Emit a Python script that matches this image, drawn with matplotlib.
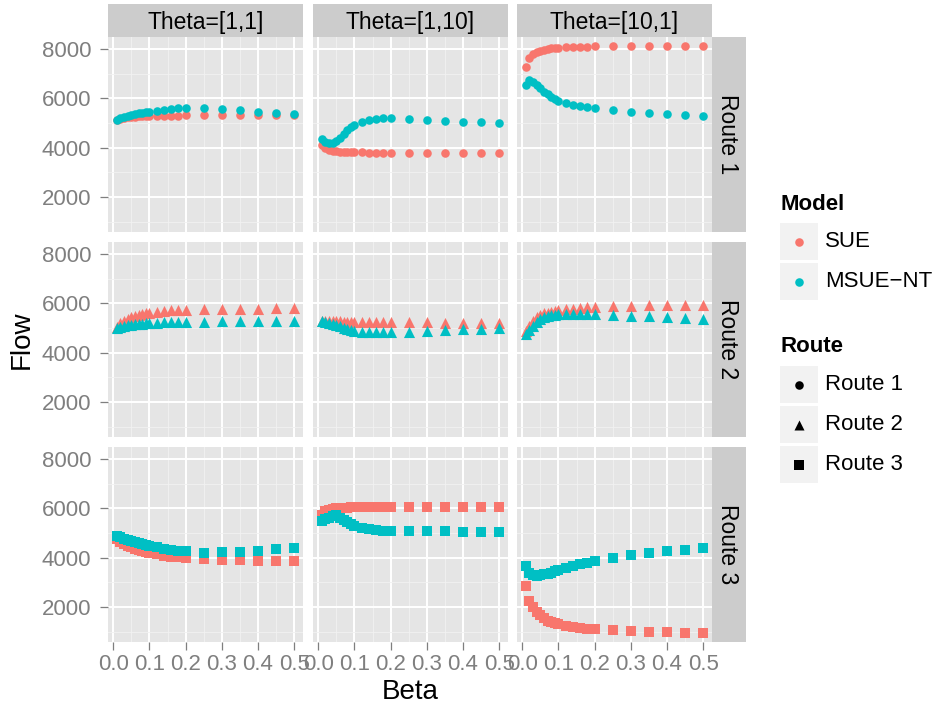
import matplotlib
matplotlib.use('Agg')
import matplotlib.pyplot as plt
from matplotlib.patches import Rectangle

plt.rcParams['font.family'] = ['Liberation Sans', 'DejaVu Sans']

# valores
beta = [0.01, 0.02, 0.03, 0.04, 0.05, 0.06, 0.07, 0.08, 0.09, 0.10,
        0.12, 0.14, 0.16, 0.18, 0.20, 0.25, 0.30, 0.35, 0.40, 0.45, 0.50]

thetas = ['Theta=[1,1]', 'Theta=[1,10]', 'Theta=[10,1]']
routes = ['Route 1', 'Route 2', 'Route 3']
models = ['SUE', 'MSUE\u2212NT']

# Route 1
sue_r1_t11 = [5130, 5180, 5210, 5230, 5250, 5260, 5270, 5280, 5285, 5290,
              5295, 5300, 5305, 5305, 5310, 5320, 5330, 5335, 5340, 5340, 5345]
msue_r1_t11 = [5130, 5200, 5250, 5290, 5330, 5360, 5390, 5410, 5430, 5460,
               5500, 5540, 5570, 5600, 5620, 5610, 5570, 5530, 5460, 5400, 5350]
sue_r1_t110 = [4110, 3990, 3920, 3880, 3860, 3845, 3835, 3825, 3820, 3815,
               3810, 3805, 3800, 3800, 3800, 3795, 3790, 3785, 3780, 3775, 3770]
msue_r1_t110 = [4350, 4230, 4180, 4200, 4280, 4400, 4550, 4700, 4830, 4940,
                5050, 5120, 5160, 5190, 5200, 5160, 5120, 5080, 5060, 5030, 5010]
sue_r1_t101 = [7260, 7620, 7790, 7880, 7930, 7970, 8000, 8020, 8035, 8050,
               8065, 8080, 8090, 8095, 8100, 8110, 8115, 8120, 8120, 8125, 8125]
msue_r1_t101 = [6540, 6760, 6680, 6540, 6400, 6270, 6160, 6070, 5970, 5900,
                5810, 5730, 5690, 5650, 5600, 5530, 5460, 5420, 5370, 5310, 5270]

# Route 2
sue_r2_t11 = [5050, 5200, 5300, 5370, 5430, 5480, 5520, 5560, 5600, 5630,
              5670, 5700, 5720, 5740, 5750, 5760, 5770, 5780, 5790, 5795, 5800]
msue_r2_t11 = [5020, 5060, 5090, 5110, 5130, 5150, 5170, 5180, 5195, 5205,
               5220, 5235, 5245, 5255, 5260, 5265, 5275, 5280, 5290, 5295, 5300]
sue_r2_t110 = [5290, 5290, 5285, 5280, 5275, 5270, 5265, 5260, 5255, 5250,
               5245, 5240, 5240, 5235, 5235, 5230, 5230, 5225, 5225, 5220, 5220]
msue_r2_t110 = [5270, 5250, 5220, 5180, 5130, 5070, 5010, 4960, 4920, 4890,
                4860, 4840, 4830, 4830, 4830, 4850, 4880, 4920, 4950, 4970, 4990]
sue_r2_t101 = [4885, 5090, 5270, 5430, 5525, 5590, 5630, 5670, 5700, 5730,
               5755, 5780, 5810, 5835, 5860, 5900, 5910, 5920, 5930, 5935, 5940]
msue_r2_t101 = [4750, 4910, 5090, 5265, 5360, 5430, 5470, 5510, 5540, 5565,
                5580, 5580, 5580, 5570, 5565, 5525, 5500, 5470, 5430, 5390, 5370]

# Route 3
sue_r3_t11 = [4780, 4650, 4560, 4480, 4420, 4370, 4320, 4280, 4240, 4200,
              4140, 4090, 4050, 4020, 3990, 3940, 3910, 3890, 3870, 3860, 3850]
msue_r3_t11 = [4900, 4830, 4770, 4720, 4670, 4630, 4590, 4550, 4510, 4480,
               4420, 4370, 4330, 4290, 4260, 4210, 4220, 4250, 4290, 4340, 4380]
sue_r3_t110 = [5720, 5880, 5950, 5990, 6010, 6020, 6030, 6035, 6040, 6045,
               6050, 6055, 6060, 6060, 6065, 6065, 6070, 6070, 6070, 6070, 6070]
msue_r3_t110 = [5500, 5550, 5630, 5690, 5730, 5630, 5530, 5430, 5350, 5280,
                5210, 5160, 5120, 5090, 5090, 5080, 5080, 5080, 5050, 5050, 5040]
sue_r3_t101 = [2850, 2270, 2000, 1800, 1665, 1555, 1460, 1395, 1355, 1300,
               1235, 1180, 1140, 1110, 1100, 1070, 1030, 1000, 990, 960, 950]
msue_r3_t101 = [3650, 3380, 3300, 3270, 3285, 3325, 3350, 3380, 3445, 3490,
                3580, 3660, 3730, 3800, 3865, 4000, 4095, 4175, 4255, 4325, 4390]

panels = {
    (0, 0): (sue_r1_t11, msue_r1_t11), (0, 1): (sue_r1_t110, msue_r1_t110),
    (0, 2): (sue_r1_t101, msue_r1_t101),
    (1, 0): (sue_r2_t11, msue_r2_t11), (1, 1): (sue_r2_t110, msue_r2_t110),
    (1, 2): (sue_r2_t101, msue_r2_t101),
    (2, 0): (sue_r3_t11, msue_r3_t11), (2, 1): (sue_r3_t110, msue_r3_t110),
    (2, 2): (sue_r3_t101, msue_r3_t101),
}

colors = ['#F8766D', '#00BFC4']
shapes = ['o', '^', 's']
sizes = [38, 64, 52]

W, H = 938, 708
fig = plt.figure(figsize=(W / 100, H / 100), dpi=100)


def box(x0, y0, w, h):
    # caja en pixeles (desde arriba a la izquierda) -> fraccion de figura
    return [x0 / W, 1 - (y0 + h) / H, w / W, h / H]


# limites con expansion del 5% como ggplot
all_y = [v for pair in panels.values() for s in pair for v in s]
yr = max(all_y) - min(all_y)
ylim = (min(all_y) - 0.05 * yr, max(all_y) + 0.05 * yr)
xr = max(beta) - min(beta)
xlim = (min(beta) - 0.05 * xr, max(beta) + 0.05 * xr)

lefts = [108, 313, 517]
tops = [37, 242, 447]
pw, ph = 195, 195
grey = '#7F7F7F'
fs = 16

for (i, j), (sue, msue) in panels.items():
    ax = fig.add_axes(box(lefts[j], tops[i], pw, ph))
    ax.set_facecolor('#E5E5E5')
    ax.scatter(beta, sue, marker=shapes[i], s=sizes[i], color=colors[0], linewidths=0, zorder=3)
    ax.scatter(beta, msue, marker=shapes[i], s=sizes[i], color=colors[1], linewidths=0, zorder=3)
    ax.set_xlim(xlim)
    ax.set_ylim(ylim)
    ax.set_xticks([0.0, 0.1, 0.2, 0.3, 0.4, 0.5])
    ax.set_xticklabels(['0.0', '0.1', '0.2', '0.3', '0.4', '0.5'])
    ax.set_xticks([0.05, 0.15, 0.25, 0.35, 0.45], minor=True)
    ax.set_yticks([2000, 4000, 6000, 8000])
    ax.set_yticks([1000, 3000, 5000, 7000], minor=True)
    ax.grid(which='major', color='white', linewidth=1.4)
    ax.grid(which='minor', color='#F2F2F2', linewidth=0.6)
    ax.set_axisbelow(True)
    for sp in ax.spines.values():
        sp.set_visible(False)
    ax.tick_params(which='minor', length=0)
    ax.tick_params(which='major', length=6, width=0.9, color=grey,
                   labelcolor=grey, labelsize=fs)
    ax.tick_params(axis='x', pad=3)
    ax.tick_params(axis='y', pad=6)
    if i != 2:
        ax.tick_params(axis='x', bottom=False, labelbottom=False)
    if j != 0:
        ax.tick_params(axis='y', left=False, labelleft=False)

# tiras de las facetas
for j, t in enumerate(thetas):
    s = fig.add_axes(box(lefts[j], 4, pw, 33))
    s.set_facecolor('#CCCCCC')
    s.set_xticks([])
    s.set_yticks([])
    for sp in s.spines.values():
        sp.set_visible(False)
    s.text(0.5, 0.45, t, ha='center', va='center', fontsize=16.5, color='black',
           transform=s.transAxes)

for i, r in enumerate(routes):
    s = fig.add_axes(box(712, tops[i], 34, ph))
    s.set_facecolor('#CCCCCC')
    s.set_xticks([])
    s.set_yticks([])
    for sp in s.spines.values():
        sp.set_visible(False)
    s.text(0.45, 0.5, r, ha='center', va='center', fontsize=16.5, color='black',
           rotation=-90, transform=s.transAxes)

# titulos de ejes
fig.text(22 / W, 1 - 340 / H, 'Flow', rotation=90, ha='center', va='center', fontsize=20)
fig.text(410 / W, 1 - 692 / H, 'Beta', ha='center', va='center', fontsize=20)

# leyenda dibujada a mano
lg = fig.add_axes([0, 0, 1, 1])
lg.set_xlim(0, W)
lg.set_ylim(H, 0)
lg.axis('off')

lg.text(780, 204, 'Model', fontsize=16, fontweight='bold', ha='left', va='center')
for k, (m, c) in enumerate(zip(models, colors)):
    y0 = 223 + 40 * k
    lg.add_patch(Rectangle((780, y0), 38, 37, color='#F2F2F2', linewidth=0))
    lg.scatter([799], [y0 + 18.5], s=38, color=c, linewidths=0, zorder=3)
    lg.text(825, y0 + 18.5, m, fontsize=16, ha='left', va='center')

lg.text(780, 347, 'Route', fontsize=16, fontweight='bold', ha='left', va='center')
for k, r in enumerate(routes):
    y0 = 366 + 40 * k
    lg.add_patch(Rectangle((780, y0), 38, 37, color='#F2F2F2', linewidth=0))
    lg.scatter([799], [y0 + 18.5], marker=shapes[k], s=[38, 52, 44][k], color='black',
               linewidths=0, zorder=3)
    lg.text(825, y0 + 18.5, r, fontsize=16, ha='left', va='center')

plt.savefig('out.png', dpi=100)
plt.close()
